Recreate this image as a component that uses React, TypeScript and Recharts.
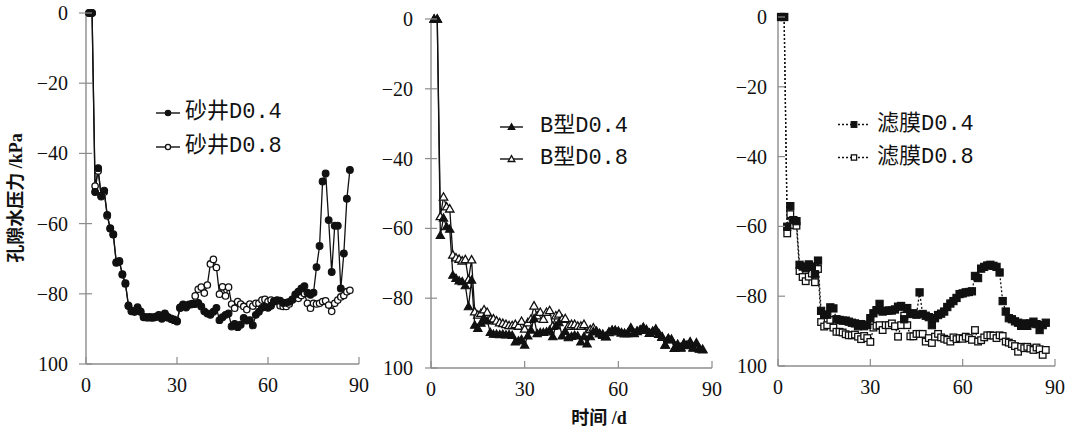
import React from 'react';
import { LineChart, Line, XAxis, YAxis, Legend } from 'recharts';

// ---------- data ----------
const DAYS = [
  1, 2, 3, 4, 5, 6, 7, 8, 9, 10, 11, 12, 13, 14, 15, 16, 17, 18, 19, 20,
  21, 22, 23, 24, 25, 26, 27, 28, 29, 30, 31, 32, 33, 34, 35, 36, 37, 38, 39, 40,
  41, 42, 43, 44, 45, 46, 47, 48, 49, 50, 51, 52, 53, 54, 55, 56, 57, 58, 59, 60,
  61, 62, 63, 64, 65, 66, 67, 68, 69, 70, 71, 72, 73, 74, 75, 76, 77, 78, 79, 80,
  81, 82, 83, 84, 85, 86, 87,
];

const SJ04 = [
  0, 0, -51, -44.2, -52.3, -50.6, -57.5, -61.3, -63, -71,
  -70.9, -74.4, -77, -83.5, -85, -85, -84, -85, -86.7, -86.7,
  -86.8, -86.7, -86.5, -86.2, -87.1, -85.6, -86.8, -87.2, -87.5, -87.9,
  -83.9, -83, -83.9, -83, -83, -82.9, -82.6, -83.6, -85, -85.6,
  -86, -85.1, -84, -87.5, -86.7, -86, -85.6, -89.3, -88.6, -89.5,
  -88.8, -86.9, -87.6, -87.5, -89, -86, -85.1, -84, -83.7, -84,
  -83.4, -82.2, -81.8, -82, -82.6, -82.5, -82.3, -81.6, -80.2, -79.4,
  -78.5, -77.8, -79.7, -80.3, -79.7, -72.4, -66.4, -48, -45.7, -59,
  -73.8, -60.6, -60.6, -78.5, -68.5, -52.9, -44.7,
];
const SJ08 = [
  0, 0, -49.3, -45, -52, -51, -57.8, -61.5, -63.2, -71.2,
  -70.6, -74.6, -77.2, -83.3, -84.8, -85.2, -83.8, -85.2, -86.5, -86.8,
  -86.6, -86.9, -86.7, -86, -86.9, -85.8, -86.6, -87, -87.3, -87.7,
  -84.1, -83.2, -83.6, -83.2, -82.8, -80.6, -78.7, -78.1, -79.8, -77.5,
  -71.5, -70.2, -72.5, -80.1, -78, -80.6, -78.1, -82.9, -84.1, -82.2,
  -82.9, -83.6, -84.5, -82.9, -83.5, -82.7, -82.7, -81.8, -81.6, -82.2,
  -81.8, -82, -82.2, -83.4, -83.6, -83.6, -82.9, -81.8, -80.9, -81.3,
  -80.5, -79.9, -82.7, -84.1, -82.7, -82.9, -82.7, -82.2, -82, -83.2,
  -85, -82.7, -81.8, -80.9, -80.5, -79.4, -79,
];
const B04 = [
  0, 0, -62, -57, -59.5, -60.2, -73.4, -74.3, -75, -75.2,
  -76.4, -82.4, -74.8, -87.7, -88.6, -87.1, -85.8, -86.5, -89.8, -90.3,
  -90.3, -90.4, -90.3, -90.5, -90.4, -90.6, -92.5, -92.2, -91.8, -93.4,
  -90.8, -89.1, -85.8, -90.1, -89.8, -89.8, -89.6, -89.1, -91, -87.9,
  -87, -90.8, -89.5, -91.3, -90.9, -90.6, -90.8, -92.5, -91, -93.1,
  -91, -89.5, -89.4, -90.1, -90.6, -91, -89.6, -89.2, -89.3, -89.4,
  -89.9, -90, -90.1, -88.7, -90.1, -89.4, -89, -88.5, -89.2, -90,
  -89.4, -89, -90.1, -91, -93.4, -91.5, -91.9, -94.3, -93.4, -94.3,
  -92.9, -93.6, -92.7, -94.3, -93.1, -94.6, -94.8,
];
const B08 = [
  0, 0, -56.6, -51, -53.8, -54.4, -67.6, -68.4, -68.8, -69.3,
  -68.9, -74.7, -69, -83.9, -84.8, -84.3, -83.3, -84, -86, -85.9,
  -86.5, -87, -87.2, -87.5, -87.8, -87.8, -87.5, -88, -86.6, -88.8,
  -87, -86, -82.2, -85, -84, -86, -84, -83.5, -88, -85,
  -84.5, -86, -85.8, -88, -87.5, -87.5, -88, -88, -87.5, -90,
  -89, -88.5, -89.6, -90.1, -90.3, -91, -89.8, -89.2, -89.2, -89.6,
  -89.9, -90.2, -90, -88.5, -90, -89.5, -89.2, -88.3, -89, -90,
  -89.6, -88.8, -90.3, -91.2, -93.4, -91.6, -91.8, -94.3, -93.2, -94.1,
  -93, -93.4, -92.5, -94.1, -92.8, -94.4, -94.6,
];
const LM04 = [
  0, 0, -60.1, -54.2, -58.2, -58.5, -71, -71.5, -72, -70.9,
  -71.5, -73.7, -69.8, -84.2, -85.3, -85.3, -83.2, -83.5, -86.6, -86.8,
  -87, -87, -87.3, -87.6, -87.8, -88.6, -88, -88.6, -88.2, -86.3,
  -84.9, -84, -82.2, -84.4, -84.2, -84.1, -84.1, -83.8, -83, -82.8,
  -86.6, -83.4, -85.1, -84.9, -85.3, -78.9, -85.1, -85.6, -86, -88.3,
  -86.3, -85.4, -85, -84.4, -83.1, -82.1, -81.4, -80.5, -79.4, -79.2,
  -78.9, -78.8, -78.6, -74.2, -74.8, -72.1, -71.6, -71.2, -71, -71.3,
  -71.6, -73.2, -81.4, -84.4, -86.3, -86.6, -87.2, -87.6, -88.5, -87.8,
  -88.5, -87.8, -87.3, -88, -89.7, -88.3, -87.6,
];
const LM08 = [
  0, 0, -62, -56.5, -59.6, -59.8, -72.8, -74.5, -75.7, -74.4,
  -73.5, -76, -72.2, -87.4, -88.7, -88.3, -86.8, -89, -90.2, -90.2,
  -90.4, -90.9, -91.2, -91.2, -91, -91.6, -92.3, -91.4, -92, -93.1,
  -89, -88.5, -88.3, -89.7, -88.3, -88.3, -87.8, -88.6, -91.6, -88.3,
  -85.6, -88.3, -91.5, -91.5, -90.8, -90.8, -90.8, -93, -92, -93.4,
  -91.6, -90.8, -91.8, -92.2, -92.5, -93, -91.8, -92.3, -92, -92.2,
  -91.6, -92, -92.5, -89.7, -93, -92.6, -91.8, -91.2, -91.2, -91.3,
  -92, -91.2, -91.4, -93, -93.3, -93.7, -94.3, -95.9, -94.5, -94.9,
  -94.5, -95, -95.4, -94.7, -95.2, -96.8, -95.4,
];

const X_TICKS = [0, 30, 60, 90];
const Y_TICKS = [0, -20, -40, -60, -80, -100];

const NAMES_SJ = ['砂井D0.4', '砂井D0.8'];
const NAMES_B = ['B型D0.4', 'B型D0.8'];
const NAMES_LM = ['滤膜D0.4', '滤膜D0.8'];
const Y_TITLE = '孔隙水压力 /kPa';
const X_TITLE = '时间 /d';

// ---------- styles ----------
const INK = '#111';
const AXIS_COLOR = '#8c8c8c';
const FONT_NUM = '"Liberation Serif", "Times New Roman", Times, serif';
const FONT_LEG = '"Liberation Mono", "Courier New", "Noto Sans CJK SC", monospace';
const FONT_TITLE = '"Liberation Serif", "Times New Roman", "Noto Sans CJK SC", serif';

type Kind = 'circle' | 'circleOpen' | 'tri' | 'triOpen' | 'sq' | 'sqOpen';

function marker(kind: Kind, cx: number, cy: number, key?: string, s = 1) {
  const common = { stroke: INK, strokeWidth: 1.1 };
  switch (kind) {
    case 'circle':
      return <circle key={key} cx={cx} cy={cy} r={3.4 * s} fill={INK} {...common} />;
    case 'circleOpen':
      return <circle key={key} cx={cx} cy={cy} r={3.2 * s} fill="#fff" stroke={INK} strokeWidth={1.3} />;
    case 'tri': {
      const a = 4.2 * s;
      return (
        <path key={key} d={`M${cx},${cy - a} L${cx + a},${cy + a * 0.75} L${cx - a},${cy + a * 0.75} Z`} fill={INK} {...common} />
      );
    }
    case 'triOpen': {
      const a = 4.2 * s;
      return (
        <path key={key} d={`M${cx},${cy - a} L${cx + a},${cy + a * 0.75} L${cx - a},${cy + a * 0.75} Z`} fill="#fff" stroke={INK} strokeWidth={1.3} />
      );
    }
    case 'sq': {
      const a = 3.6 * s;
      return <rect key={key} x={cx - a} y={cy - a} width={2 * a} height={2 * a} fill={INK} {...common} />;
    }
    case 'sqOpen': {
      const a = 3.3 * s;
      return <rect key={key} x={cx - a} y={cy - a} width={2 * a} height={2 * a} fill="#fff" stroke={INK} strokeWidth={1.3} />;
    }
  }
  return null;
}

const dotFor = (kind: Kind) => (p: any) => {
  const k = `${kind}-${p.index}`;
  if (p.cx == null || p.cy == null) return <g key={k} />;
  return marker(kind, p.cx, p.cy, k);
};

const yLabel = (v: number) => (v === 0 ? '0' : v === -100 ? '100' : '\u2212' + Math.abs(v));

const numStyle = { fontFamily: FONT_NUM, fontSize: 20 };

const makeYTick = (axisX: number, outer: number, inner: number, gap: number) => (props: any) => {
  const { y, payload } = props;
  return (
    <g>
      <line x1={axisX - outer} x2={axisX + inner} y1={y} y2={y} stroke={AXIS_COLOR} strokeWidth={1.2} />
      <text x={axisX - gap} y={y} textAnchor="end" dominantBaseline="central" style={numStyle} fill={INK}>
        {yLabel(payload.value)}
      </text>
    </g>
  );
};

const makeXTick = (axisY: number, inner: number, gap: number) => (props: any) => {
  const { x, payload } = props;
  return (
    <g>
      <line x1={x} x2={x} y1={axisY - inner} y2={axisY} stroke={AXIS_COLOR} strokeWidth={1.2} />
      <text x={x} y={axisY + gap} textAnchor="middle" dominantBaseline="central" style={numStyle} fill={INK}>
        {payload.value}
      </text>
    </g>
  );
};

type LegItem = { label: string; kind: Kind; dash?: string };
type LegCfg = { rowH: number; lineLen: number; gap: number };

const makeLegend = (items: LegItem[], cfg: LegCfg) => () => (
  <div style={{ fontFamily: FONT_LEG, fontSize: 22, color: INK }}>
    {items.map((it) => (
      <div key={it.label} style={{ display: 'flex', alignItems: 'center', height: cfg.rowH }}>
        <svg width={cfg.lineLen} height={cfg.rowH} style={{ display: 'block', flex: 'none' }}>
          <line x1={0} x2={cfg.lineLen} y1={cfg.rowH / 2} y2={cfg.rowH / 2} stroke={INK} strokeWidth={1.4} strokeDasharray={it.dash} />
          {marker(it.kind, cfg.lineLen / 2, cfg.rowH / 2, undefined, 0.8)}
        </svg>
        <span style={{ marginLeft: cfg.gap, lineHeight: 1, whiteSpace: 'nowrap' }}>{it.label}</span>
      </div>
    ))}
  </div>
);

type PanelProps = {
  left: number;
  width: number;
  axisLeft: number;
  marginRight: number;
  top: number;
  axisBottom: number;
  yOuter: number;
  yInner: number;
  yGap: number;
  a: number[];
  b: number[];
  names: string[];
  kinds: [Kind, Kind];
  dash?: string;
  legLeft: number;
  legTop: number;
  legCfg: LegCfg;
};

const H = 436;
const XAXIS_H = 30;

function Panel(p: PanelProps) {
  const data = DAYS.map((d, i) => ({ day: d, a: p.a[i], b: p.b[i] }));
  const bottomMargin = H - p.axisBottom - XAXIS_H;
  const items: LegItem[] = [
    { label: p.names[0], kind: p.kinds[0], dash: p.dash },
    { label: p.names[1], kind: p.kinds[1], dash: p.dash },
  ];
  return (
    <div style={{ position: 'absolute', left: p.left, top: 0, width: p.width, height: H }}>
      <LineChart
        width={p.width}
        height={H}
        data={data}
        margin={{ top: p.top, right: p.marginRight, bottom: bottomMargin, left: 0 }}
      >
        <XAxis
          dataKey="day"
          type="number"
          domain={[0, 90]}
          ticks={X_TICKS}
          interval={0}
          height={XAXIS_H}
          axisLine={{ stroke: AXIS_COLOR, strokeWidth: 1.4 }}
          tickLine={false}
          tick={makeXTick(p.axisBottom, 7, 21)}
        />
        <YAxis
          type="number"
          domain={[-100, 0]}
          ticks={Y_TICKS}
          interval={0}
          width={p.axisLeft}
          axisLine={{ stroke: AXIS_COLOR, strokeWidth: 1.4 }}
          tickLine={false}
          tick={makeYTick(p.axisLeft, p.yOuter, p.yInner, p.yGap)}
        />
        <Legend
          layout="vertical"
          align="center"
          verticalAlign="middle"
          content={makeLegend(items, p.legCfg)}
          wrapperStyle={{ left: p.legLeft, top: p.legTop, width: 220, height: p.legCfg.rowH * 2 }}
        />
        <Line
          dataKey="b"
          name={p.names[1]}
          stroke={INK}
          strokeWidth={1.3}
          strokeDasharray={p.dash}
          dot={dotFor(p.kinds[1])}
          activeDot={false}
          isAnimationActive={false}
        />
        <Line
          dataKey="a"
          name={p.names[0]}
          stroke={INK}
          strokeWidth={1.3}
          strokeDasharray={p.dash}
          dot={dotFor(p.kinds[0])}
          activeDot={false}
          isAnimationActive={false}
        />
      </LineChart>
    </div>
  );
}

export default function App() {
  return (
    <div style={{ position: 'absolute', left: 0, top: 0, width: 1072, height: 436, background: '#fff', overflow: 'hidden' }}>
      <Panel
        left={0}
        width={380}
        axisLeft={86}
        marginRight={21}
        top={13}
        axisBottom={364}
        yOuter={7}
        yInner={6}
        yGap={18}
        a={SJ04}
        b={SJ08}
        names={NAMES_SJ}
        kinds={['circle', 'circleOpen']}
        legLeft={156}
        legTop={96}
        legCfg={{ rowH: 34, lineLen: 24, gap: 5 }}
      />
      <Panel
        left={362}
        width={376}
        axisLeft={69}
        marginRight={26}
        top={19}
        axisBottom={368}
        yOuter={6}
        yInner={6}
        yGap={18}
        a={B04}
        b={B08}
        names={NAMES_B}
        kinds={['tri', 'triOpen']}
        legLeft={138}
        legTop={111}
        legCfg={{ rowH: 32, lineLen: 23, gap: 17 }}
      />
      <Panel
        left={718}
        width={354}
        axisLeft={60}
        marginRight={17}
        top={17}
        axisBottom={366}
        yOuter={0}
        yInner={7}
        yGap={11}
        a={LM04}
        b={LM08}
        names={NAMES_LM}
        kinds={['sq', 'sqOpen']}
        dash="2 2"
        legLeft={120}
        legTop={108}
        legCfg={{ rowH: 33, lineLen: 32, gap: 7 }}
      />
      <div
        style={{
          position: 'absolute',
          left: 16,
          top: 198,
          transform: 'translate(-50%, -50%) rotate(-90deg)',
          whiteSpace: 'nowrap',
          fontWeight: 'bold',
          fontSize: 18,
          fontFamily: FONT_TITLE,
          color: INK,
          lineHeight: 1,
        }}
      >
        {Y_TITLE}
      </div>
      <div
        style={{
          position: 'absolute',
          left: 599,
          top: 418,
          transform: 'translate(-50%, -50%)',
          whiteSpace: 'nowrap',
          fontWeight: 'bold',
          fontSize: 18,
          fontFamily: FONT_TITLE,
          color: INK,
          lineHeight: 1,
        }}
      >
        {X_TITLE}
      </div>
    </div>
  );
}
